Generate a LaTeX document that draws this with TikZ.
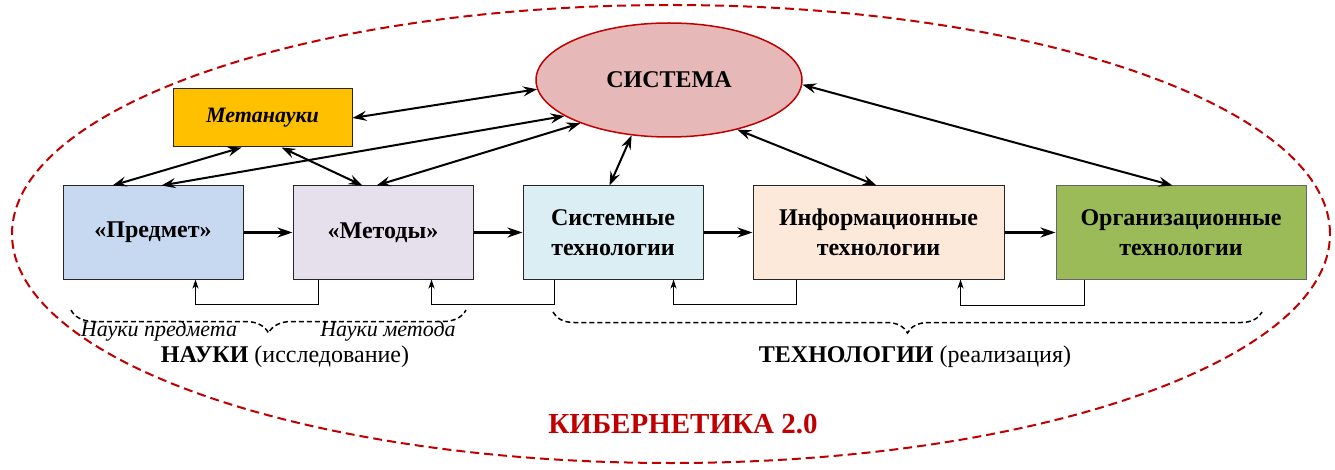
\documentclass[tikz,border=0pt]{standalone}
\usepackage{fontspec}
\setmainfont{Liberation Serif}
\usetikzlibrary{arrows.meta,shapes.geometric,decorations.pathreplacing}

\definecolor{cyred}{HTML}{C00000}
\definecolor{sysfill}{HTML}{E6B8B7}
\definecolor{metafill}{HTML}{FFC000}
\definecolor{predfill}{HTML}{C6D9F1}
\definecolor{metfill}{HTML}{E5E0EC}
\definecolor{systfill}{HTML}{DAEEF3}
\definecolor{inffill}{HTML}{FDE9D9}
\definecolor{orgfill}{HTML}{9BBB59}

\begin{document}
\begin{tikzpicture}[x=1pt,y=-1pt,
  box/.style={draw=black!85, line width=1pt, minimum width=180pt, minimum height=93pt,
    align=center, inner sep=0pt, font=\fontsize{24}{30}\selectfont\bfseries},
  link/.style={line width=2pt,
    {Stealth[length=14pt,width=10pt,inset=5pt]}-{Stealth[length=14pt,width=10pt,inset=5pt]}},
  flow/.style={line width=2.5pt, -{Stealth[length=15pt,width=10pt,inset=5pt]}},
  back/.style={line width=1.3pt, -{Stealth[length=9pt,width=6pt,inset=2.5pt]}},
  curly/.style={line width=1.5pt, dash pattern=on 5pt off 3pt, decorate,
    decoration={brace, mirror, amplitude=#1}},
  label/.style={font=\fontsize{24}{28}\selectfont},
  sublabel/.style={font=\fontsize{22}{26}\selectfont\itshape}]

\useasboundingbox (0,0) rectangle (1335,470);

% outer boundary
\draw[cyred, line width=2pt, dash pattern=on 9pt off 5pt]
  (671,234) ellipse [x radius=659pt, y radius=229pt];

% central ellipse
\node[ellipse, draw=cyred, fill=sysfill, line width=1.5pt, minimum width=266pt,
  minimum height=114pt, inner sep=0pt, font=\fontsize{24}{30}\selectfont\bfseries]
  (sys) at (669,80) {СИСТЕМА};

\node[box, fill=metafill, minimum width=179pt, minimum height=58pt,
  font=\fontsize{22}{26}\selectfont\bfseries\itshape] (meta) at (262.5,118) {Метанауки};

% row of blocks
\node[box, fill=predfill] (pred) at (153,232.5) {«Предмет»};
\node[box, fill=metfill] (met) at (383,232.5) {«Методы»};
\node[box, fill=systfill] (syst) at (613,232.5) {Системные\\технологии};
\node[box, fill=inffill, minimum width=251pt] (inf) at (878.5,232.5) {Информационные\\технологии};
\node[box, fill=orgfill, draw=black!60, minimum width=250pt] (org) at (1181,232.5) {Организационные\\технологии};

% two-way links
\draw[link] (meta.east) -- (sys.184);
\draw[link] ([xshift=69pt]meta.south west) -- ([xshift=50pt]pred.north west);
\draw[link] ([xshift=109pt]meta.south west) -- ([xshift=70pt]met.north west);
\draw[link] (sys.199) -- ([xshift=99pt]pred.north west);
\draw[link] (sys.206) -- ([xshift=84pt]met.north west);
\draw[link] (sys.236) -- ([xshift=87pt]syst.north west);
\draw[link] (sys.324) -- ([xshift=124pt]inf.north west);
\draw[link] (sys.358) -- ([xshift=117pt]org.north west);

% forward chain
\draw[flow] (pred.east) -- (met.west);
\draw[flow] (met.east) -- (syst.west);
\draw[flow] (syst.east) -- (inf.west);
\draw[flow] (inf.east) -- (org.west);

% feedback loops
\draw[back] ([xshift=26pt]met.south west) -- ++(0,25) -| ([xshift=133pt]pred.south west);
\draw[back] ([xshift=32pt]syst.south west) -- ++(0,25) -| ([xshift=139pt]met.south west);
\draw[back] ([xshift=44pt]inf.south west) -- ++(0,25) -| ([xshift=151pt]syst.south west);
\draw[back] ([xshift=29pt]org.south west) -- ++(0,26) -| ([xshift=208pt]inf.south west);

% braces
\coordinate (b1l) at (71,310);
\coordinate (b1r) at (466,310);
\coordinate (b2l) at (553,312);
\coordinate (b2r) at (1262,312);
\draw[curly=23pt] (b1l) -- (b1r);
\draw[curly=21pt] (b2l) -- (b2r);

% captions
\node[sublabel] (np) at (159,331) {Науки предмета};
\node[sublabel] (nm) at (388,331) {Науки метода};
\node[label] (nauki) at (285,357) {\textbf{НАУКИ} (исследование)};
\node[label] (tech) at (915,357) {\textbf{ТЕХНОЛОГИИ} (реализация)};
\node[font=\fontsize{29}{33}\selectfont\bfseries, text=cyred] (cyb) at (683,424) {КИБЕРНЕТИКА 2.0};
\end{tikzpicture}
\end{document}
